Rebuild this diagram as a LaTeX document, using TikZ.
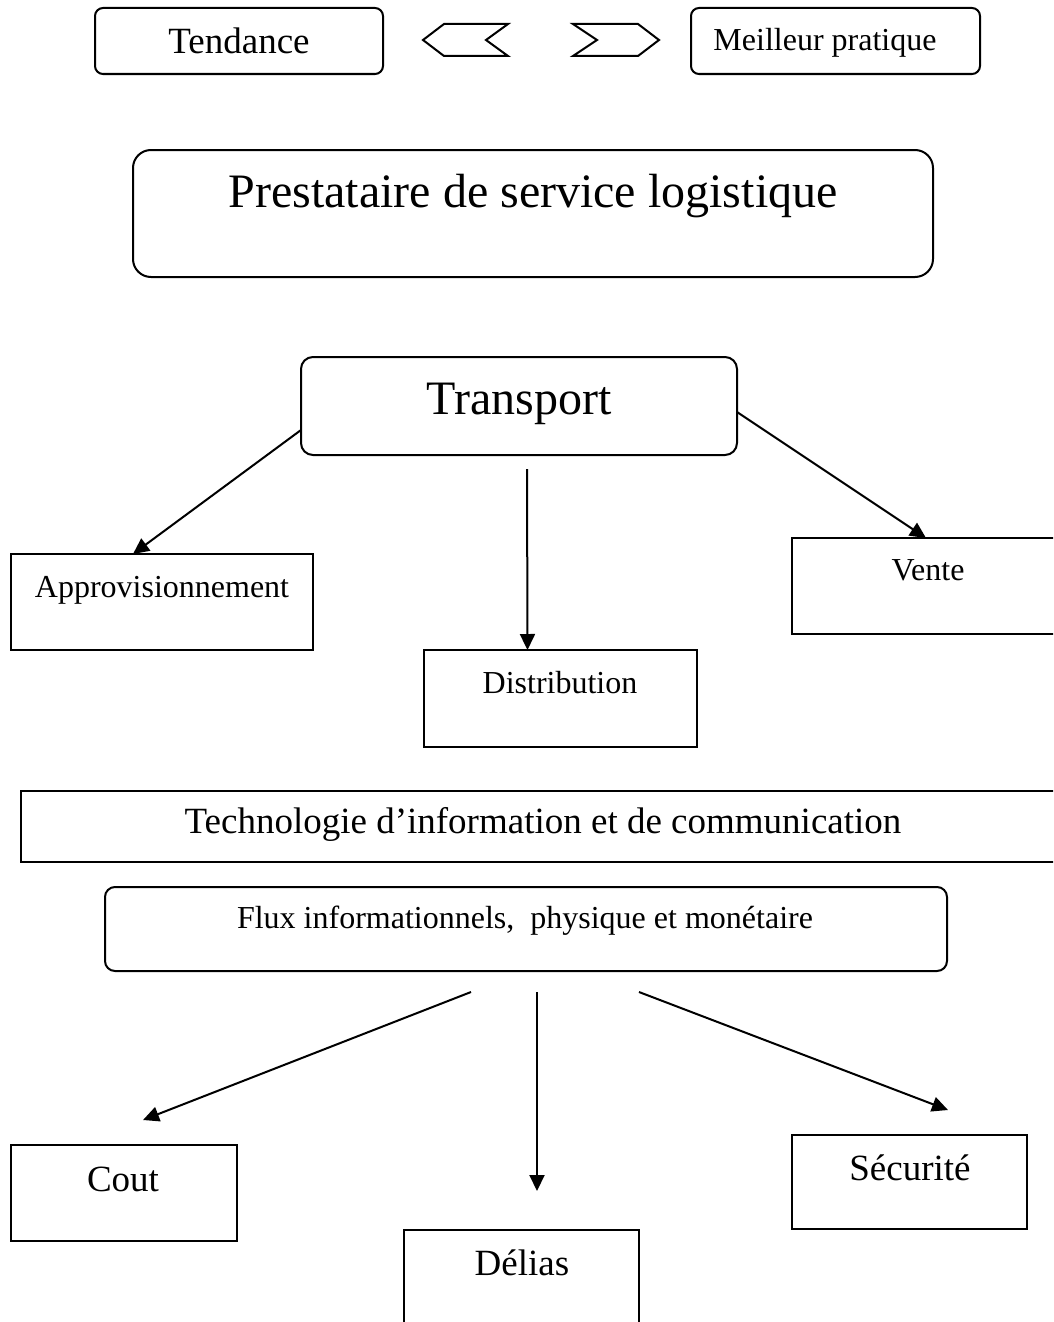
\documentclass[tikz,border=0pt]{standalone}
\usepackage{fontspec}
\setmainfont{Liberation Serif}
\usetikzlibrary{arrows.meta}

\tikzset{
  frame/.style={draw, line width=2pt, inner sep=0pt, outer sep=0pt},
  rframe/.style={frame, rounded corners=#1},
  lbl/.style={anchor=base, inner sep=0pt, outer sep=0pt},
  big/.style={lbl, font=\fontsize{48}{56}\selectfont},
  mid/.style={lbl, font=\fontsize{37}{44}\selectfont},
  small/.style={lbl, font=\fontsize{32}{38}\selectfont},
  link/.style={line width=2pt, -{Triangle[length=16pt,width=15pt]}},
  chevron/.style={line width=2pt, line join=miter}
}

\begin{document}
\begin{tikzpicture}[x=1pt, y=-1pt]
  \useasboundingbox (0,0) rectangle (1053,1322);
  \fill[white] (0,0) rectangle (1053,1322);
  \clip (0,0) rectangle (1053,1322);

  % top row
  \node[rframe=8pt, minimum width=288pt, minimum height=66pt] (tend) at (239,41) {};
  \node[mid] (tendT) at (239,54) {Tendance};
  \node[rframe=8pt, minimum width=289pt, minimum height=66pt] (meil) at (835.5,41) {};
  \node[small] (meilT) at (825,51) {Meilleur pratique};

  % chevrons between the two top boxes
  \draw[chevron] (423,40) -- (444,24) -- (508,24) -- (486,40) -- (508,56) -- (444,56) -- cycle;
  \draw[chevron] (573,24) -- (638,24) -- (659,40) -- (638,56) -- (573,56) -- (597,40) -- cycle;

  % provider
  \node[rframe=18pt, minimum width=800pt, minimum height=127pt] (prest) at (533,213.5) {};
  \node[big] (prestT) at (533,207) {Prestataire de service logistique};

  % transport and its three branches
  \node[rframe=12pt, minimum width=436pt, minimum height=98pt] (trans) at (519,406) {};
  \node[big] (transT) at (519,414) {Transport};

  \node[frame, minimum width=302pt, minimum height=96pt] (appro) at (162,602) {};
  \node[small] (approT) at (162,597) {Approvisionnement};

  \node[frame, minimum width=308pt, minimum height=96pt] (vente) at (946,586) {};
  \node[small] (venteT) at (928,580) {Vente};

  \node[frame, minimum width=273pt, minimum height=97pt] (distr) at (560.5,698.5) {};
  \node[small] (distrT) at (560,693) {Distribution};

  \draw[link] ([yshift=-24pt]trans.west) -- ([xshift=-29pt]appro.north);
  \draw[link] ([yshift=-6pt]trans.east) -- ([xshift=-20pt]vente.north);
  \draw[link] ([xshift=8pt,yshift=-14pt]trans.south) -- ([xshift=-33pt]distr.north);

  % ICT band
  \node[frame, minimum width=1079pt, minimum height=71pt] (tech) at (560.5,826.5) {};
  \node[mid] (techT) at (543,833) {Technologie d’information et de communication};

  % flows
  \node[rframe=10pt, minimum width=842pt, minimum height=84pt] (flux) at (526,929) {};
  \node[small] (fluxT) at (525,928) {Flux informationnels,\ \ physique et monétaire};

  \node[frame, minimum width=226pt, minimum height=96pt] (cout) at (124,1193) {};
  \node[mid] (coutT) at (123,1191) {Cout};

  \node[frame, minimum width=235pt, minimum height=100pt] (delias) at (521.5,1280) {};
  \node[mid] (deliasT) at (522,1275) {Délias};

  \node[frame, minimum width=235pt, minimum height=94pt] (secu) at (909.5,1182) {};
  \node[mid] (secuT) at (910,1180) {Sécurité};

  \draw[link] ([xshift=-55pt,yshift=-21pt]flux.south) -- ([xshift=19pt,yshift=25pt]cout.north);
  \draw[link] ([xshift=11pt,yshift=-21pt]flux.south) -- ([xshift=15.5pt,yshift=39pt]delias.north);
  \draw[link] ([xshift=113pt,yshift=-21pt]flux.south) -- ([xshift=38.5pt,yshift=25pt]secu.north);
\end{tikzpicture}
\end{document}
